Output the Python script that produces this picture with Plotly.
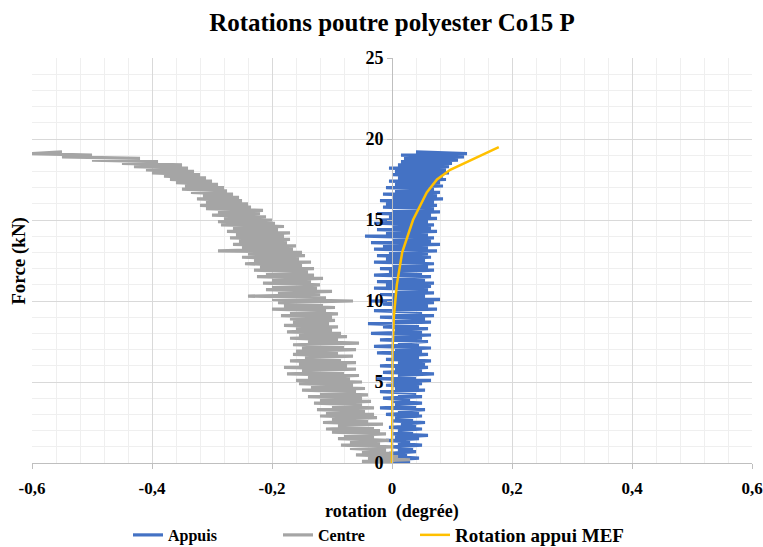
import plotly.graph_objects as go

force = [
    0.0, 0.1, 0.2, 0.3, 0.4, 0.5, 0.6, 0.7, 0.8, 0.9,
    1.0, 1.1, 1.2, 1.3, 1.4, 1.5, 1.6, 1.7, 1.8, 1.9,
    2.0, 2.1, 2.2, 2.3, 2.4, 2.5, 2.6, 2.7, 2.8, 2.9,
    3.0, 3.1, 3.2, 3.3, 3.4, 3.5, 3.6, 3.7, 3.8, 3.9,
    4.0, 4.1, 4.2, 4.3, 4.4, 4.5, 4.6, 4.7, 4.8, 4.9,
    5.0, 5.1, 5.2, 5.3, 5.4, 5.5, 5.6, 5.7, 5.8, 5.9,
    6.0, 6.1, 6.2, 6.3, 6.4, 6.5, 6.6, 6.7, 6.8, 6.9,
    7.0, 7.1, 7.2, 7.3, 7.4, 7.5, 7.6, 7.7, 7.8, 7.9,
    8.0, 8.1, 8.2, 8.3, 8.4, 8.5, 8.6, 8.7, 8.8, 8.9,
    9.0, 9.1, 9.2, 9.3, 9.4, 9.5, 9.6, 9.7, 9.8, 9.9,
    10.0, 10.1, 10.2, 10.3, 10.4, 10.5, 10.6, 10.7, 10.8, 10.9,
    11.0, 11.1, 11.2, 11.3, 11.4, 11.5, 11.6, 11.7, 11.8, 11.9,
    12.0, 12.1, 12.2, 12.3, 12.4, 12.5, 12.6, 12.7, 12.8, 12.9,
    13.0, 13.1, 13.2, 13.3, 13.4, 13.5, 13.6, 13.7, 13.8, 13.9,
    14.0, 14.1, 14.2, 14.3, 14.4, 14.5, 14.6, 14.7, 14.8, 14.9,
    15.0, 15.1, 15.2, 15.3, 15.4, 15.5, 15.6, 15.7, 15.8, 15.9,
    16.0, 16.1, 16.2, 16.3, 16.4, 16.5, 16.6, 16.7, 16.8, 16.9,
    17.0, 17.1, 17.2, 17.3, 17.4, 17.5, 17.6, 17.7, 17.8, 17.9,
    18.0, 18.1, 18.2, 18.3, 18.4, 18.5, 18.6, 18.7, 18.8, 18.9,
    19.0, 19.1, 19.2,
]

rot_appuis = [
    0.0, 0.03, 0.005, 0.045, 0.0, 0.025, -0.005, 0.04, 0.01, 0.035,
    0.0, 0.05, 0.01, 0.03, -0.01, 0.045, 0.005, 0.06, 0.0, 0.035,
    0.01, 0.05, -0.005, 0.04, 0.015, 0.055, 0.0, 0.035, 0.005, 0.05,
    -0.01, 0.045, 0.01, 0.055, -0.02, 0.04, 0.005, 0.05, 0.0, 0.03,
    -0.015, 0.05, 0.01, 0.04, -0.02, 0.055, 0.005, 0.045, -0.01, 0.05,
    0.0, 0.065, -0.025, 0.04, 0.01, 0.07, -0.015, 0.05, 0.005, 0.06,
    -0.02, 0.055, 0.01, 0.065, -0.01, 0.045, 0.0, 0.06, -0.025, 0.05,
    0.005, 0.065, -0.03, 0.045, 0.01, 0.06, -0.02, 0.05, 0.0, 0.065,
    -0.035, 0.05, 0.005, 0.06, -0.015, 0.045, -0.04, 0.065, 0.0, 0.055,
    -0.02, 0.07, 0.005, 0.05, -0.03, 0.075, 0.0, 0.06, -0.015, 0.07,
    -0.035, 0.08, 0.0, 0.055, -0.02, 0.07, 0.005, 0.06, -0.03, 0.065,
    -0.01, 0.07, -0.025, 0.055, 0.0, 0.065, -0.03, 0.05, -0.005, 0.07,
    -0.02, 0.06, 0.0, 0.07, -0.03, 0.055, -0.01, 0.065, -0.025, 0.06,
    -0.005, 0.075, -0.03, 0.06, -0.015, 0.08, -0.035, 0.065, 0.0, 0.07,
    -0.045, 0.06, -0.01, 0.075, -0.025, 0.065, 0.0, 0.07, -0.03, 0.06,
    -0.02, 0.075, -0.005, 0.065, -0.025, 0.08, 0.0, 0.07, -0.015, 0.075,
    -0.01, 0.07, -0.02, 0.085, 0.0, 0.075, -0.015, 0.08, 0.005, 0.07,
    -0.01, 0.085, 0.005, 0.08, -0.005, 0.09, 0.01, 0.085, 0.0, 0.095,
    0.005, 0.09, -0.005, 0.095, 0.01, 0.1, 0.015, 0.11, 0.02, 0.12,
    0.015, 0.125, 0.04,
]

rot_centre = [
    0.0, -0.05, 0.03, -0.04, 0.01, -0.06, 0.0, -0.05, -0.01, -0.07,
    0.0, -0.085, -0.02, -0.07, -0.005, -0.09, -0.03, -0.08, -0.01, -0.1,
    -0.02, -0.11, -0.03, -0.09, -0.015, -0.115, -0.04, -0.1, -0.025, -0.12,
    -0.03, -0.11, -0.045, -0.125, -0.03, -0.1, -0.05, -0.13, -0.035, -0.12,
    -0.05, -0.14, -0.04, -0.12, -0.06, -0.15, -0.045, -0.135, -0.065, -0.155,
    -0.05, -0.16, -0.07, -0.14, -0.055, -0.175, -0.08, -0.15, -0.06, -0.18,
    -0.075, -0.155, -0.06, -0.17, -0.085, -0.145, -0.065, -0.165, -0.09, -0.16,
    -0.06, -0.15, -0.08, -0.165, -0.055, -0.14, -0.09, -0.17, -0.075, -0.155,
    -0.085, -0.175, -0.1, -0.16, -0.09, -0.18, -0.105, -0.165, -0.095, -0.17,
    -0.1, -0.185, -0.09, -0.17, -0.11, -0.2, -0.095, -0.18, -0.115, -0.19,
    -0.065, -0.2, -0.11, -0.24, -0.12, -0.19, -0.1, -0.21, -0.125, -0.2,
    -0.12, -0.215, -0.135, -0.2, -0.115, -0.225, -0.13, -0.21, -0.14, -0.23,
    -0.13, -0.22, -0.15, -0.245, -0.135, -0.23, -0.155, -0.25, -0.145, -0.24,
    -0.15, -0.29, -0.165, -0.25, -0.16, -0.265, -0.175, -0.255, -0.17, -0.27,
    -0.18, -0.26, -0.17, -0.275, -0.19, -0.265, -0.18, -0.285, -0.195, -0.29,
    -0.2, -0.28, -0.21, -0.3, -0.22, -0.29, -0.215, -0.31, -0.235, -0.32,
    -0.24, -0.31, -0.25, -0.325, -0.255, -0.315, -0.265, -0.335, -0.275, -0.35,
    -0.28, -0.345, -0.29, -0.36, -0.3, -0.37, -0.31, -0.38, -0.32, -0.4,
    -0.33, -0.41, -0.34, -0.43, -0.35, -0.45, -0.39, -0.5, -0.42, -0.55,
    -0.5, -0.6, -0.55,
]

mef_force = [0.0, 5.0, 7.0, 9.0, 11.0, 13.0, 15.0, 16.7, 17.5, 18.1, 19.5]
mef_rot = [0.0, 0.0, 0.001, 0.003, 0.008, 0.017, 0.035, 0.058, 0.075, 0.097, 0.178]

x_tickvals = [-0.6, -0.4, -0.2, 0, 0.2, 0.4, 0.6]
x_ticktext = ["-0,6", "-0,4", "-0,2", "0", "0,2", "0,4", "0,6"]
y_tickvals = [0, 5, 10, 15, 20, 25]

SERIF = "Liberation Serif, Times New Roman, serif"

fig = go.Figure()
fig.add_trace(go.Scatter(x=rot_appuis, y=force, mode="lines", name="Appuis",
                         line=dict(color="#4472C4", width=3.2), legend="legend"))
fig.add_trace(go.Scatter(x=rot_centre, y=force, mode="lines", name="Centre",
                         line=dict(color="#A5A5A5", width=3.2), legend="legend"))
fig.add_trace(go.Scatter(x=mef_rot, y=mef_force, mode="lines",
                         name="Rotation appui MEF",
                         line=dict(color="#FFC000", width=2.5), legend="legend2"))

fig.update_layout(
    width=763, height=547,
    margin=dict(l=32, r=11, t=58, b=84, autoexpand=False),
    paper_bgcolor="white", plot_bgcolor="white",
    font=dict(family=SERIF, color="black"),
    title=dict(text="<b>Rotations poutre polyester Co15 P</b>", x=0.5, xref="paper",
               xanchor="center", y=1 - 22 / 547, yanchor="middle",
               font=dict(size=25, family=SERIF, color="black")),
    xaxis=dict(range=[-0.6, 0.6], tickvals=x_tickvals, ticktext=x_ticktext,
               automargin=False, ticklabeloverflow="allow",
               showgrid=True, gridcolor="#d9d9d9", gridwidth=1,
               minor=dict(dtick=0.04, tick0=0, showgrid=True, gridcolor="#efefef", gridwidth=1),
               zeroline=False, showline=True, linecolor="#bfbfbf", linewidth=1,
               ticks="outside", ticklen=5, tickcolor="#bfbfbf",
               tickfont=dict(size=17, family=SERIF, color="black", weight="bold"),
               ticklabelstandoff=5),
    yaxis=dict(range=[0, 25], tickvals=y_tickvals, anchor="free", position=0.5,
               automargin=False,
               showgrid=True, gridcolor="#d9d9d9", gridwidth=1,
               minor=dict(dtick=1, tick0=0, showgrid=True, gridcolor="#efefef", gridwidth=1),
               zeroline=False, showline=True, linecolor="#bfbfbf", linewidth=1,
               ticks="outside", ticklen=5, tickcolor="#bfbfbf",
               tickfont=dict(size=18, family=SERIF, color="black", weight="bold")),
    legend=dict(orientation="h", xref="container", yref="container",
                x=128 / 763, xanchor="left", y=12 / 547, yanchor="middle",
                entrywidth=105, entrywidthmode="pixels",
                font=dict(size=16, family=SERIF, color="black", weight="bold")),
    legend2=dict(orientation="h", xref="container", yref="container",
                 x=415 / 763, xanchor="left", y=12 / 547, yanchor="middle",
                 font=dict(size=19, family=SERIF, color="black", weight="bold")),
    showlegend=True,
    annotations=[
        dict(text="<b>Force (kN)</b>", xref="paper", yref="paper",
             x=-0.019, y=0.5, showarrow=False, textangle=-90,
             xanchor="center", yanchor="middle",
             font=dict(size=19, family=SERIF, color="black")),
        dict(text="<b>rotation  (degrée)</b>", xref="paper", yref="paper",
             x=0.5, y=(463 - 512) / 405, showarrow=False,
             xanchor="center", yanchor="middle",
             font=dict(size=18, family=SERIF, color="black")),
    ],
)

fig.write_html("out.html", post_script="document.body.style.margin='0px';",
               config={"displayModeBar": False})
